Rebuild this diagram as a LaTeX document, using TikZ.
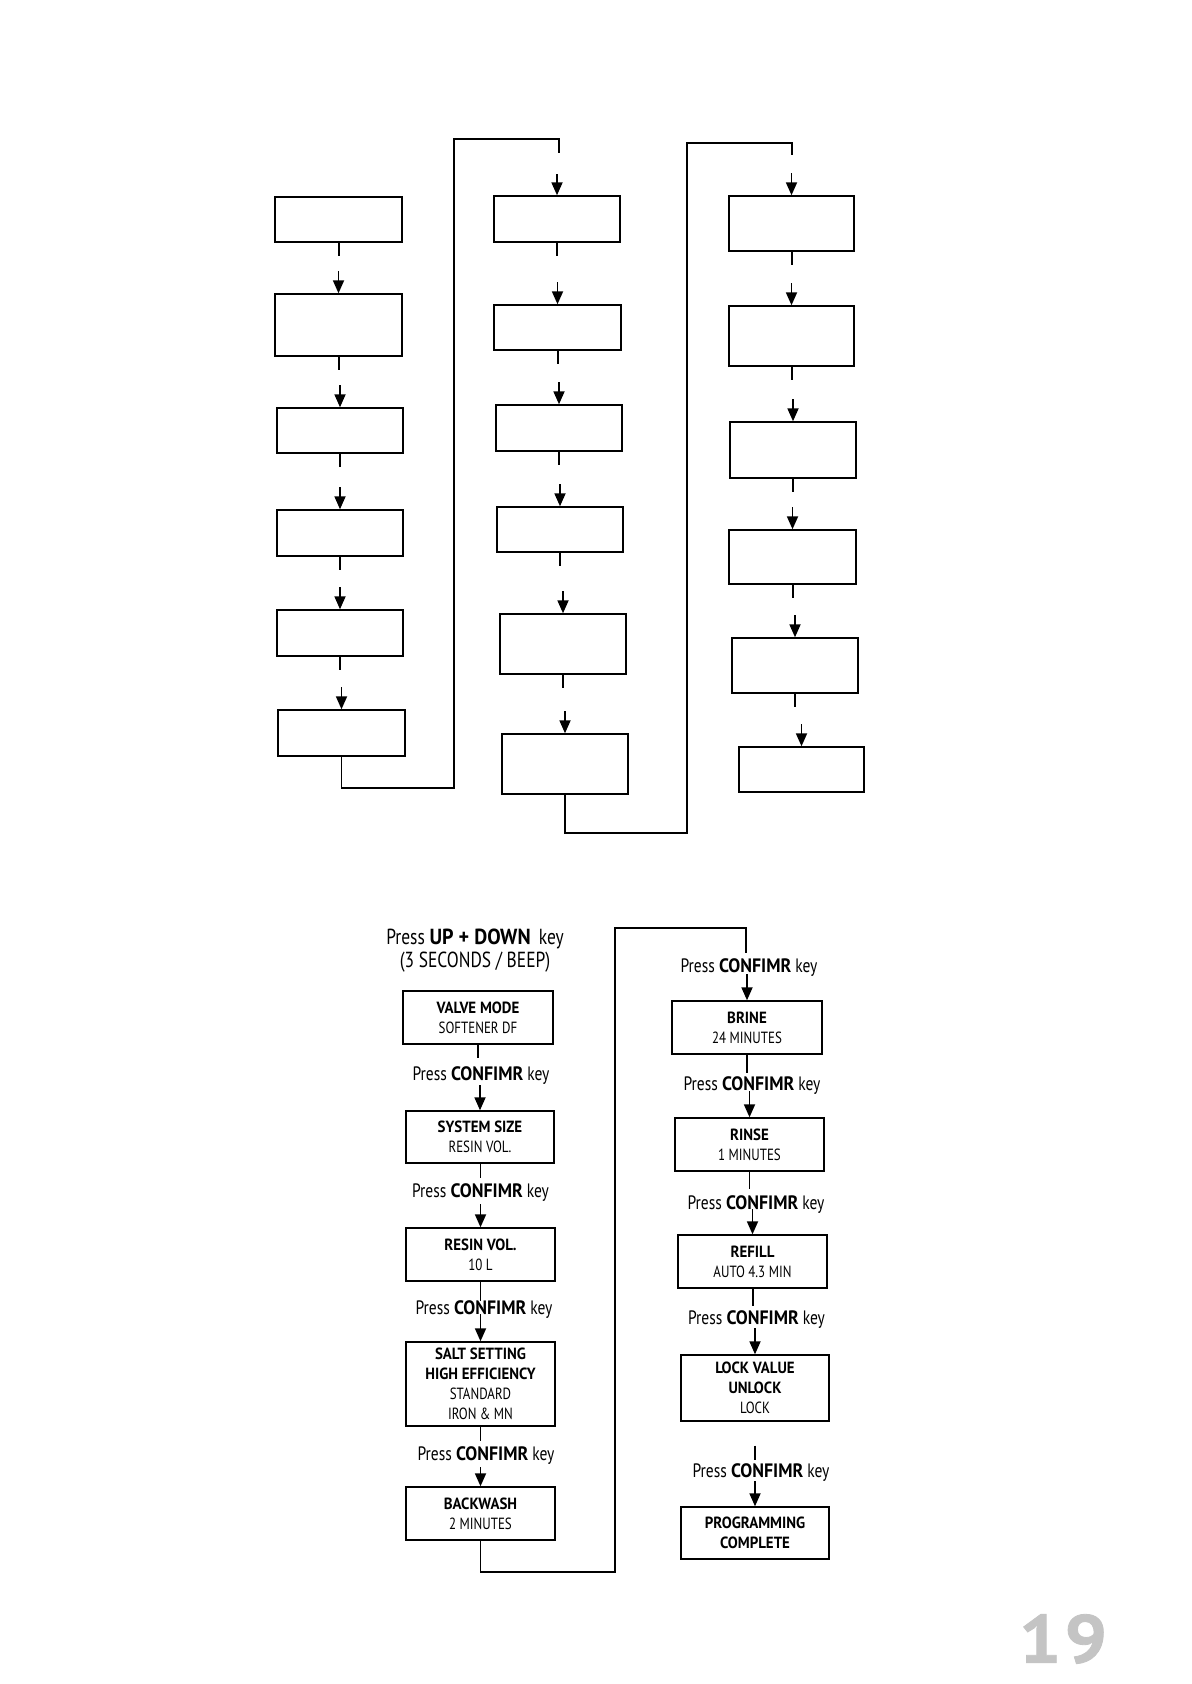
\documentclass[tikz,border=0pt]{standalone}
\usepackage{fontspec}
\setmainfont{PT Sans}[FakeStretch=0.8,BoldFeatures={FakeStretch=0.92}]
\newfontfamily\pagefont{PT Sans}[BoldFeatures={FakeStretch=1.1,LetterSpace=5,FakeBold=1.2}]
\usetikzlibrary{arrows.meta,calc}
\definecolor{pagegray}{HTML}{C4C4C4}
\begin{document}
\begin{tikzpicture}[x=0.5pt,y=-0.5pt,
  box/.style={draw,line width=0.7pt,inner sep=0pt,align=center,font=\fontsize{8.1}{10}\selectfont},
  sz/.style 2 args={minimum width=#1*0.5pt,minimum height=#2*0.5pt},
  lbl/.style={inner sep=0pt,font=\fontsize{9.7}{12}\selectfont},
  stub/.style={line width=1pt},
  thin/.style={line width=0.5pt},
  arr/.style={line width=0.9pt,-{Triangle[length=6.5pt,width=5.5pt]}},
  loopline/.style={line width=0.9pt}]
\fill[white] (0,0) rectangle (1191,1684);
\useasboundingbox (0,0) rectangle (1191,1684);
% ---------- top section (empty boxes) ----------
\node[box,sz={127}{45}] (A1) at (338.5,219.5) {};
\node[box,sz={127}{62}] (A2) at (338.5,325) {};
\node[box,sz={126}{45}] (A3) at (340,430.5) {};
\node[box,sz={126}{46}] (A4) at (340,533) {};
\node[box,sz={126}{46}] (A5) at (340,633) {};
\node[box,sz={127}{46}] (A6) at (341.5,733) {};
\node[box,sz={126}{46}] (B1) at (557,219) {};
\node[box,sz={127}{45}] (B2) at (557.5,327.5) {};
\node[box,sz={126}{46}] (B3) at (559,428) {};
\node[box,sz={126}{45}] (B4) at (560,529.5) {};
\node[box,sz={126}{60}] (B5) at (563,644) {};
\node[box,sz={126}{60}] (B6) at (565,764) {};
\node[box,sz={125}{55}] (C1) at (791.5,223.5) {};
\node[box,sz={125}{60}] (C2) at (791.5,336) {};
\node[box,sz={126}{56}] (C3) at (793,450) {};
\node[box,sz={127}{54}] (C4) at (792.5,557) {};
\node[box,sz={126}{55}] (C5) at (795,665.5) {};
\node[box,sz={125}{45}] (C6) at (801.5,769.5) {};
\foreach \p/\q in {A1/A2,A2/A3,A3/A4,A4/A5,A5/A6,B1/B2,B2/B3,B3/B4,B4/B5,B5/B6,C1/C2,C2/C3,C3/C4,C4/C5,C5/C6}{
  \draw[stub] (\p.south) -- ++(0,13);
  \draw[arr] ([yshift=11pt]\q.north) -- (\q.north);
}
\coordinate (lA) at (559,153);
\coordinate (lB) at (792,155);
\draw[loopline] (A6.south) -- ++(0,31) -| (454,139) -| (lA);
\draw[arr] ([yshift=10.5pt]B1.north) -- (B1.north);
\draw[loopline] (B6.south) -- ++(0,38) -| (687,143) -| (lB);
\draw[arr] ([yshift=11pt]C1.north) -- (C1.north);
% ---------- bottom section ----------
\node[inner sep=0pt,align=center,font=\fontsize{10.9}{11.5}\selectfont] (T0) at (475,951)
  {Press \textbf{UP + DOWN}\, key\\(3 SECONDS / BEEP)};
\node[box,sz={150}{53}] (V) at (478,1017.5) {\textbf{VALVE MODE}\\SOFTENER DF};
\node[box,sz={148}{52}] (S) at (480,1137) {\textbf{SYSTEM SIZE}\\RESIN VOL.};
\node[box,sz={149}{53}] (R) at (480.5,1254.5) {\textbf{RESIN VOL.}\\10 L};
\node[box,sz={149}{84}] (T) at (480.5,1384) {\textbf{SALT SETTING}\\\textbf{HIGH EFFICIENCY}\\STANDARD\\IRON \& MN};
\node[box,sz={149}{53}] (W) at (480.5,1513.5) {\textbf{BACKWASH}\\2 MINUTES};
\node[box,sz={150}{53}] (BR) at (747,1027.5) {\textbf{BRINE}\\24 MINUTES};
\node[box,sz={149}{53}] (RI) at (749.5,1144.5) {\textbf{RINSE}\\1 MINUTES};
\node[box,sz={149}{53}] (RF) at (752.5,1261.5) {\textbf{REFILL}\\AUTO 4.3 MIN};
\node[box,sz={148}{66}] (LK) at (755,1388) {\textbf{LOCK VALUE}\\\textbf{UNLOCK}\\LOCK};
\node[box,sz={148}{52}] (PC) at (755,1533) {\textbf{PROGRAMMING}\\\textbf{COMPLETE}};
\node[lbl] (L1) at (481,1076) {Press \textbf{CONFIMR} key};
\node[lbl] (L2) at (480.5,1193) {Press \textbf{CONFIMR} key};
\node[lbl] (L3) at (484,1310) {Press \textbf{CONFIMR} key};
\node[lbl] (L4) at (486,1456) {Press \textbf{CONFIMR} key};
\node[lbl] (L5) at (749,968) {Press \textbf{CONFIMR} key};
\node[lbl] (L6) at (752,1086) {Press \textbf{CONFIMR} key};
\node[lbl] (L7) at (756,1205) {Press \textbf{CONFIMR} key};
\node[lbl] (L8) at (756.5,1320) {Press \textbf{CONFIMR} key};
\node[lbl] (L9) at (761,1473) {Press \textbf{CONFIMR} key};
% connectors left column
\draw[stub] (V.south) -- ++(0,13);
\draw[arr] ([yshift=12.5pt]S.north) -- (S.north);
\draw[thin] (S.south) -- ++(0,14);
\draw[arr] ([yshift=11.5pt]R.north) -- (R.north);
\draw[thin] (R.south) -- ++(0,19);
\draw[arr] ([yshift=13.5pt]T.north) -- (T.north);
\draw[thin] (T.south) -- ++(0,14);
\draw[arr] ([yshift=9.5pt]W.north) -- (W.north);
\coordinate (lC) at (746,953);
\draw[loopline] (W.south) -- ++(0,31) -| (615,928) -| (lC);
% connectors right column
\draw[arr] ([yshift=13pt]BR.north) -- (BR.north);
\draw[stub] (BR.south) -- ++(0,18);
\draw[arr] ([yshift=13pt]RI.north) -- (RI.north);
\draw[thin] (RI.south) -- ++(0,17);
\draw[arr] ([yshift=12.5pt]RF.north) -- (RF.north);
\draw[stub] (RF.south) -- ++(0,17);
\draw[arr] ([yshift=13pt]LK.north) -- (LK.north);
\draw[stub] ([yshift=-12pt]LK.south) -- ++(0,14);
\draw[arr] ([yshift=12.5pt]PC.north) -- (PC.north);
% page number
\node[inner sep=0pt,text=pagegray,font=\pagefont\bfseries\fontsize{34}{34}\selectfont] (pg) at (1063,1639) {19};
\end{tikzpicture}
\end{document}
